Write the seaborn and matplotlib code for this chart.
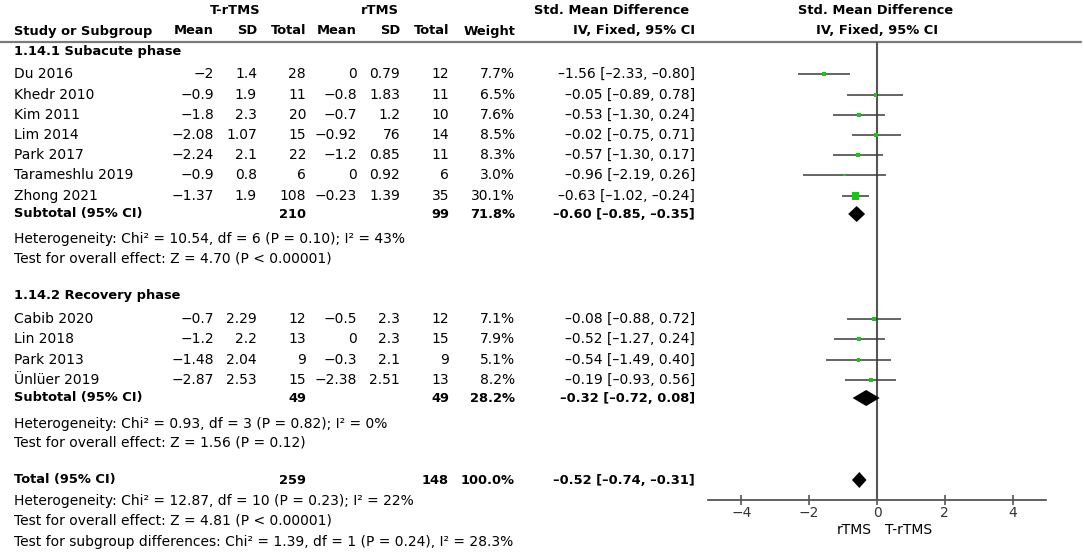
import numpy as np
import pandas as pd
import seaborn as sns
import matplotlib.pyplot as plt

sns.set_theme(style="white")
plt.rcParams['font.family'] = ['DejaVu Sans']

# --- data ---
studies = ["Du 2016", "Khedr 2010", "Kim 2011", "Lim 2014", "Park 2017", "Tarameshlu 2019", "Zhong 2021",
           "Cabib 2020", "Lin 2018", "Park 2013", "Ünlüer 2019"]
group = ["sub"] * 7 + ["rec"] * 4
mean_t = ["−2", "−0.9", "−1.8", "−2.08", "−2.24", "−0.9", "−1.37", "−0.7", "−1.2", "−1.48", "−2.87"]
sd_t = ["1.4", "1.9", "2.3", "1.07", "2.1", "0.8", "1.9", "2.29", "2.2", "2.04", "2.53"]
n_t = [28, 11, 20, 15, 22, 6, 108, 12, 13, 9, 15]
mean_c = ["0", "−0.8", "−0.7", "−0.92", "−1.2", "0", "−0.23", "−0.5", "0", "−0.3", "−2.38"]
sd_c = ["0.79", "1.83", "1.2", "76", "0.85", "0.92", "1.39", "2.3", "2.3", "2.1", "2.51"]
n_c = [12, 11, 10, 14, 11, 6, 35, 12, 15, 9, 13]
weight = [7.7, 6.5, 7.6, 8.5, 8.3, 3.0, 30.1, 7.1, 7.9, 5.1, 8.2]
smd = [-1.56, -0.05, -0.53, -0.02, -0.57, -0.96, -0.63, -0.08, -0.52, -0.54, -0.19]
ci_lo = [-2.33, -0.89, -1.30, -0.75, -1.30, -2.19, -1.02, -0.88, -1.27, -1.49, -0.93]
ci_hi = [-0.80, 0.78, 0.24, 0.71, 0.17, 0.26, -0.24, 0.72, 0.24, 0.40, 0.56]

pooled_names = ["Subtotal (95% CI)", "Subtotal (95% CI)", "Total (95% CI)"]
pooled_nt = [210, 49, 259]
pooled_nc = [99, 49, 148]
pooled_w = ["71.8%", "28.2%", "100.0%"]
pooled_smd = [-0.60, -0.32, -0.52]
pooled_lo = [-0.85, -0.72, -0.74]
pooled_hi = [-0.35, 0.08, -0.31]

notes_sub = ["Heterogeneity: Chi² = 10.54, df = 6 (P = 0.10); I² = 43%",
             "Test for overall effect: Z = 4.70 (P < 0.00001)"]
notes_rec = ["Heterogeneity: Chi² = 0.93, df = 3 (P = 0.82); I² = 0%",
             "Test for overall effect: Z = 1.56 (P = 0.12)"]
notes_tot = ["Heterogeneity: Chi² = 12.87, df = 10 (P = 0.23); I² = 22%",
             "Test for overall effect: Z = 4.81 (P < 0.00001)",
             "Test for subgroup differences: Chi² = 1.39, df = 1 (P = 0.24), I² = 28.3%"]

# row layout (pixel rows of the figure)
row_y = [74, 95, 115, 135, 155, 175, 196, 319, 339, 360, 380]
pooled_y = [214, 398, 480]

df = pd.DataFrame({"study": studies, "smd": smd, "lo": ci_lo, "hi": ci_hi,
                   "weight": weight, "y": row_y})

W, H = 1084, 556
fig = plt.figure(figsize=(W / 100, H / 100), dpi=100)

# text layer in pixel coordinates
tx = fig.add_axes([0, 0, 1, 1])
tx.set_xlim(0, W)
tx.set_ylim(H, 0)
tx.axis("off")

fs = 10
fs_b = 9.4
green = "#14c814"
col_x = [214, 257, 306, 357, 400, 449, 515]

def t(x, y, s, ha="left", bold=False, **kw):
    tx.text(x, y, s, ha=ha, va="center", fontsize=fs_b if bold else fs,
            fontweight="bold" if bold else "normal", color="black", **kw)

def ci_text(e, lo, hi):
    return f"{e:.2f} [{lo:.2f}, {hi:.2f}]".replace("-", "–")

# headers
t(235, 11, "T-rTMS", ha="center", bold=True)
t(380, 11, "rTMS", ha="center", bold=True)
t(689, 11, "Std. Mean Difference", ha="right", bold=True)
t(876, 11, "Std. Mean Difference", ha="center", bold=True)
t(14, 31, "Study or Subgroup", bold=True)
for x, h in zip(col_x, ["Mean", "SD", "Total", "Mean", "SD", "Total", "Weight"]):
    t(x, 31, h, ha="right", bold=True)
t(695, 31, "IV, Fixed, 95% CI", ha="right", bold=True)
t(877, 31, "IV, Fixed, 95% CI", ha="center", bold=True)
tx.plot([0, 1081], [41.5, 41.5], color="#7a7a7a", lw=1.6)

t(14, 52, "1.14.1 Subacute phase", bold=True)
t(14, 296, "1.14.2 Recovery phase", bold=True)

for i in range(len(studies)):
    y = row_y[i]
    t(14, y, studies[i])
    vals = [mean_t[i], sd_t[i], n_t[i], mean_c[i], sd_c[i], n_c[i], f"{weight[i]:.1f}%"]
    for x, v in zip(col_x, vals):
        t(x, y, str(v), ha="right")
    t(695, y, ci_text(smd[i], ci_lo[i], ci_hi[i]), ha="right")

for k in range(3):
    y = pooled_y[k]
    t(14, y, pooled_names[k], bold=True)
    t(col_x[2], y, str(pooled_nt[k]), ha="right", bold=True)
    t(col_x[5], y, str(pooled_nc[k]), ha="right", bold=True)
    t(col_x[6], y, pooled_w[k], ha="right", bold=True)
    t(695, y, ci_text(pooled_smd[k], pooled_lo[k], pooled_hi[k]), ha="right", bold=True)

for y, s in zip([239, 259], notes_sub):
    t(14, y, s)
for y, s in zip([424, 443], notes_rec):
    t(14, y, s)
for y, s in zip([501, 521, 542], notes_tot):
    t(14, y, s)

# forest panel: x in SMD units, y in the same pixel rows
x0, x1 = 708, 1046
ax = fig.add_axes([x0 / W, (H - 500) / H, (x1 - x0) / W, (500 - 41.5) / H])
ax.set_xlim(-4.985, 4.985)
ax.set_ylim(500, 41.5)
ax.patch.set_alpha(0)
for s in ["top", "left", "right"]:
    ax.spines[s].set_visible(False)
ax.spines["bottom"].set_color("#555555")
ax.spines["bottom"].set_linewidth(1.3)
ax.set_yticks([])
ax.set_xticks([-4, -2, 0, 2, 4])
ax.tick_params(axis="x", direction="inout", length=7, width=1.2, color="#555555",
               labelsize=fs, labelcolor="#333333", pad=1, bottom=True)
ax.axvline(0, color="#555555", lw=1.5, zorder=1)

ax.hlines(df["y"], df["lo"], df["hi"], color="#3a3a3a", lw=1.1, zorder=2)
sns.scatterplot(data=df, x="smd", y="y", size="weight", sizes=(0, 30), size_norm=(0, 30.1),
                marker="s", color=green, linewidth=0, legend=False, ax=ax, zorder=3)
ax.set_xlabel("")
ax.set_ylabel("")

half_h = 8
for k in range(3):
    y = pooled_y[k]
    ax.fill([pooled_lo[k], pooled_smd[k], pooled_hi[k], pooled_smd[k]],
            [y, y - half_h, y, y + half_h], color="black", lw=0, zorder=3)

t(854, 530, "rTMS", ha="center")
t(909, 530, "T-rTMS", ha="center")

fig.savefig("out.png", dpi=100)
